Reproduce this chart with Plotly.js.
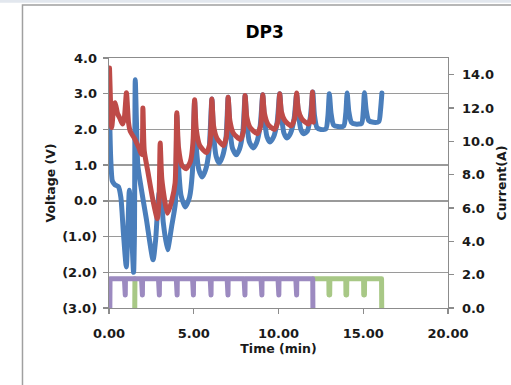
<!DOCTYPE html>
<html>
<head>
<meta charset="utf-8">
<script src="https://cdn.plot.ly/plotly-3.0.1.min.js"></script>
<style>
html, body { margin: 0; padding: 0; background: #ffffff; }
#chart { width: 511px; height: 385px; }
.js-line { stroke-linejoin: round !important; stroke-linecap: round !important; }
</style>
</head>
<body>
<div id="chart"></div>
<script>
// ---- data ----
const chartTitle = 'DP3';
const xTitle = 'Time (min)';
const yTitle = 'Voltage (V)';
const y2Title = 'Current(A)';

const xTickVals = [0, 5, 10, 15, 20];
const xTickText = ['0.00', '5.00', '10.00', '15.00', '20.00'];
const yTickVals = [-3, -2, -1, 0, 1, 2, 3, 4];
const yTickText = ['(3.0)', '(2.0)', '(1.0)', '0.0', '1.0', '2.0', '3.0', '4.0'];
const y2TickVals = [0, 2, 4, 6, 8, 10, 12, 14];
const y2TickText = ['0.0', '2.0', '4.0', '6.0', '8.0', '10.0', '12.0', '14.0'];

// Blue voltage trace (min, V)
const blueTime = [0.05, 0.1, 0.2, 0.35, 0.55, 0.7, 0.85, 1.02, 1.1, 1.2, 1.3, 1.45, 1.5, 1.55, 1.62, 1.7, 1.85, 2.2, 2.6, 2.75, 2.95, 3.05, 3.2, 3.45, 3.7, 3.92, 4.0, 4.1, 4.25, 4.5, 4.75, 4.92, 5.05,
  5.15, 5.3, 5.5, 5.7, 5.9, 6.07,
  6.17, 6.32, 6.5, 6.7, 6.9, 7.03,
  7.13, 7.28, 7.5, 7.7, 7.9, 8.03,
  8.13, 8.28, 8.5, 8.7, 8.92, 9.07,
  9.17, 9.32, 9.5, 9.7, 9.92, 10.07,
  10.17, 10.32, 10.5, 10.7, 10.92, 11.07,
  11.17, 11.32, 11.5, 11.7, 11.88, 12.02,
  12.12, 12.27, 12.5, 12.8, 12.92, 13.0,
  13.1, 13.25, 13.5, 13.85, 13.97, 14.05,
  14.15, 14.3, 14.55, 14.9, 15.0, 15.07,
  15.17, 15.32, 15.6, 15.92, 16.02, 16.1];
const blueVolt = [2.1, 1.2, 0.55, 0.45, 0.4, 0.1, -0.9, -1.85, -1.0, 0.3, -0.5, -2.0, -1.0, 3.39, 2.2, 1.0, 0.5, -0.5, -1.65, -1.1, 0.2, 0.3, -0.6, -1.37, -0.7, -0.05, 2.4, 1.0, 0.15, -0.17, 0.1, 0.8, 2.8,
  1.5, 0.87, 0.67, 0.87, 1.4, 2.85,
  1.85, 1.25, 1.06, 1.25, 1.75, 2.9,
  2.05, 1.48, 1.29, 1.45, 1.95, 2.95,
  2.2, 1.65, 1.48, 1.62, 2.1, 2.97,
  2.3, 1.8, 1.65, 1.78, 2.2, 3.0,
  2.4, 1.9, 1.76, 1.88, 2.3, 3.0,
  2.45, 2.0, 1.88, 1.95, 2.35, 3.05,
  2.4, 2.05, 2.0, 2.02, 2.4, 3.0,
  2.45, 2.12, 2.08, 2.1, 2.45, 3.02,
  2.5, 2.2, 2.15, 2.17, 2.5, 3.03,
  2.55, 2.25, 2.2, 2.22, 2.55, 3.02];

// Red voltage trace (min, V)
const redTime = [0.03, 0.1, 0.16, 0.3, 0.36, 0.5, 0.65, 0.8, 0.9, 1.03, 1.15, 1.25, 1.5, 1.75, 1.93, 2.0, 2.08, 2.3, 2.6, 2.85, 2.95, 3.02, 3.12, 3.45, 3.7, 3.9, 4.0, 4.1, 4.3, 4.55, 4.8, 4.95, 5.05,
  5.15, 5.35, 5.75, 5.95, 6.07,
  6.17, 6.37, 6.75, 6.93, 7.03,
  7.13, 7.33, 7.75, 7.93, 8.03,
  8.13, 8.33, 8.75, 8.95, 9.07,
  9.17, 9.37, 9.75, 9.95, 10.07,
  10.17, 10.37, 10.75, 10.95, 11.07,
  11.17, 11.37, 11.75, 11.92, 12.0, 12.06];
const redVolt = [3.72, 2.6, 2.05, 2.7, 2.75, 2.45, 2.3, 2.15, 2.3, 3.03, 2.2, 1.95, 1.75, 1.5, 1.3, 2.6, 1.4, 0.8, 0.0, -0.5, 0.0, 1.62, 0.6, -0.35, 0.0, 0.5, 2.47, 1.5, 1.0, 0.9, 1.1, 1.6, 2.83,
  2.0, 1.55, 1.35, 1.6, 2.85,
  2.1, 1.75, 1.55, 1.8, 2.9,
  2.25, 1.9, 1.72, 1.95, 2.95,
  2.35, 2.05, 1.88, 2.1, 2.97,
  2.45, 2.15, 2.0, 2.2, 3.0,
  2.5, 2.25, 2.1, 2.3, 3.02,
  2.55, 2.3, 2.15, 2.35, 3.05, 2.2];

// Purple current trace (min, A)
const purpleTime = [0.05, 0.06,
  0.91, 0.92, 0.96, 0.97,
  1.92, 1.93, 1.97, 1.98,
  2.92, 2.93, 2.97, 2.98,
  3.97, 3.98, 4.02, 4.03,
  4.93, 4.94, 4.98, 4.99,
  5.97, 5.98, 6.02, 6.03,
  6.97, 6.98, 7.02, 7.03,
  7.97, 7.98, 8.02, 8.03,
  8.97, 8.98, 9.02, 9.03,
  9.97, 9.98, 10.02, 10.03,
  11.02, 11.03, 11.07, 11.08,
  12.02, 12.03];
const purpleAmp = [0, 1.75,
  1.75, 0.78, 0.78, 1.75,
  1.75, 0.78, 0.78, 1.75,
  1.75, 0.78, 0.78, 1.75,
  1.75, 0.78, 0.78, 1.75,
  1.75, 0.78, 0.78, 1.75,
  1.75, 0.78, 0.78, 1.75,
  1.75, 0.78, 0.78, 1.75,
  1.75, 0.78, 0.78, 1.75,
  1.75, 0.78, 0.78, 1.75,
  1.75, 0.78, 0.78, 1.75,
  1.75, 0.78, 0.78, 1.75,
  1.75, 0];

// Green current trace (min, A); null = hidden gap under purple
const greenTime = [1.52, 1.53, 1.54,
  12.05,
  12.97, 12.98, 13.02, 13.03,
  13.97, 13.98, 14.02, 14.03,
  15.02, 15.03, 15.07, 15.08,
  16.08, 16.09];
const greenAmp = [0, 1.75, null,
  1.75,
  1.75, 0.78, 0.78, 1.75,
  1.75, 0.78, 0.78, 1.75,
  1.75, 0.78, 0.78, 1.75,
  1.75, 0];

// ---- styles ----
const cBlue = '#4a7ebb', cRed = '#be4b48', cPurple = '#9c8ac0', cGreen = '#a8c886';
const lw = 5;
const fontFam = 'DejaVu Sans, Verdana, sans-serif';

const traces = [
  {x: greenTime, y: greenAmp, yaxis: 'y2', mode: 'lines', line: {color: cGreen, width: lw}, connectgaps: false, hoverinfo: 'skip'},
  {x: purpleTime, y: purpleAmp, yaxis: 'y2', mode: 'lines', line: {color: cPurple, width: lw}, hoverinfo: 'skip'},
  {x: blueTime, y: blueVolt, mode: 'lines', line: {color: cBlue, width: lw, shape: 'spline', smoothing: 0.6}, hoverinfo: 'skip'},
  {x: redTime, y: redVolt, mode: 'lines', line: {color: cRed, width: lw, shape: 'spline', smoothing: 0.6}, hoverinfo: 'skip'}
];

const tickFont = {family: fontFam, size: 13, color: '#1a1a1a', weight: 700};
const titleFont = {family: fontFam, size: 12.5, color: '#1a1a1a', weight: 700};

const layout = {
  width: 511, height: 385,
  margin: {l: 109, r: 63, t: 58, b: 77, pad: 0},
  paper_bgcolor: '#ffffff', plot_bgcolor: '#ffffff',
  showlegend: false,
  title: {text: chartTitle, font: {family: fontFam, size: 17, color: '#000', weight: 700},
          xref: 'container', x: 0.518, xanchor: 'center', yref: 'container', y: 0.918, yanchor: 'middle'},
  xaxis: {
    range: [0, 20], tickvals: xTickVals, ticktext: xTickText,
    showgrid: false, zeroline: false,
    showline: true, linecolor: '#8c8c8c', linewidth: 1.3, mirror: true,
    ticks: 'outside', ticklen: 5, tickcolor: '#8c8c8c', tickwidth: 1.3,
    tickfont: tickFont, ticklabelstandoff: 8,
    title: {text: xTitle, font: titleFont, standoff: 1}
  },
  yaxis: {
    range: [-3, 4], tickvals: yTickVals, ticktext: yTickText,
    showgrid: true, gridcolor: '#9a9a9a', gridwidth: 1.3, zeroline: false,
    showline: true, linecolor: '#8c8c8c', linewidth: 1.3,
    ticks: 'outside', ticklen: 5, tickcolor: '#8c8c8c', tickwidth: 1.3,
    tickfont: tickFont, ticklabelstandoff: 3,
    title: {text: yTitle, font: titleFont, standoff: 3}
  },
  yaxis2: {
    range: [0, 15], tickvals: y2TickVals, ticktext: y2TickText,
    overlaying: 'y', side: 'right', anchor: 'x',
    showgrid: false, zeroline: false,
    showline: true, linecolor: '#8c8c8c', linewidth: 1.3,
    ticks: 'outside', ticklen: 5, tickcolor: '#8c8c8c', tickwidth: 1.3,
    tickfont: tickFont, ticklabelstandoff: 5,
    title: {text: y2Title, font: titleFont, standoff: 2}
  },
  shapes: [
    {type: 'rect', xref: 'paper', yref: 'paper', x0: -0.2552, x1: 1.6, y0: -0.6, y1: 1.212,
     line: {color: '#a0a0a0', width: 1.5}, fillcolor: 'rgba(0,0,0,0)', layer: 'below'},
    {type: 'rect', xref: 'paper', yref: 'paper', x0: -0.4, x1: 1.6, y0: 1.221, y1: 1.24,
     line: {width: 0}, fillcolor: '#e2e7ee', layer: 'below'}
  ]
};

Plotly.newPlot('chart', traces, layout, {staticPlot: true, displayModeBar: false});
</script>
</body>
</html>
